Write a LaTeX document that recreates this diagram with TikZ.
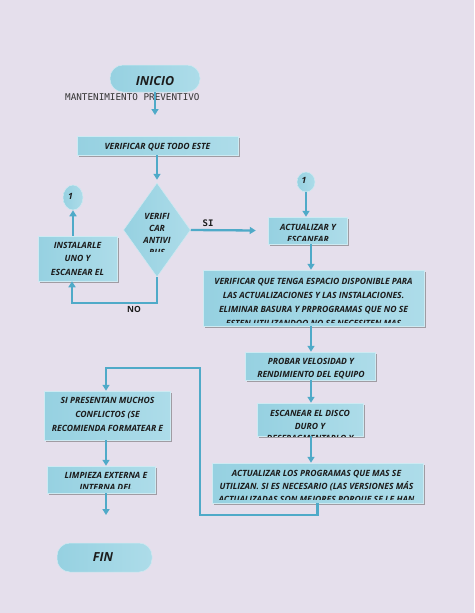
\documentclass[tikz,border=0pt]{standalone}
\usepackage{fontspec}
\setmainfont{Open Sans}
\newfontfamily\monof{DejaVu Sans Mono}
\usetikzlibrary{shapes.geometric,shadows,arrows.meta,calc}
\definecolor{bg}{HTML}{E5DFEC}
\definecolor{ln}{HTML}{4FAAC8}
\definecolor{shA}{HTML}{96D1E1}
\definecolor{shB}{HTML}{DDF1F6}
\definecolor{shC}{HTML}{ADDCE9}
\definecolor{txc}{HTML}{1C1C1C}
\newcommand\cliplines[6]{%
  \begin{scope}
    \clip (0,0) rectangle (474,#5);
    \foreach \tl [count=\i] in {#6} {\node[txt] (#1\i) at (#2,{#3+(\i-1)*#4}) {\tl};}
  \end{scope}}
\begin{document}
\begin{tikzpicture}[x=1pt,y=-1pt,
  fillbox/.style={draw=white!40!shC, line width=0.5pt, left color=shA, middle color=shB, right color=shC, inner sep=0pt},
  box/.style={fillbox, drop shadow={shadow xshift=1.8pt,shadow yshift=-1.8pt,fill=black!70,opacity=0.45}},
  term/.style={fillbox, rounded corners=13pt},
  dia/.style={fillbox, diamond},
  circ/.style={fillbox, ellipse},
  txt/.style={font=\fontsize{8.6}{10}\selectfont\bfseries\itshape, text=txc, inner sep=0pt, anchor=base},
  ttl/.style={font=\fontsize{12.5}{14}\selectfont\bfseries\itshape, text=txc, inner sep=0pt, anchor=base},
  lbl/.style={text=txc, inner sep=0pt, anchor=base},
  arr/.style={draw=ln, line width=2.3pt, -{Triangle[width=7pt,length=6pt]}},
  con/.style={draw=ln, line width=2.3pt}]
\fill[bg] (0,0) rectangle (474,613);
\useasboundingbox (0,0) rectangle (474,613);

% INICIO
\node[term, minimum width=90pt, minimum height=27pt] (inicio) at (155,78.5) {};
\node[ttl] (inicioT) at (155,85) {INICIO};
\node[lbl, anchor=base west, font=\monof\fontsize{9.3}{11}\selectfont, text=black!80] (mant) at (65,100) {MANTENIMIENTO PREVENTIVO};
\coordinate (a1end) at (155,115);

% VERIFICAR QUE TODO ESTE
\node[box, minimum width=161pt, minimum height=19pt] (b0) at (157.5,145.5) {};
\cliplines{b0t}{157.5}{149.5}{13}{154}{VERIFICAR QUE TODO ESTE}

% diamond
\node[dia, minimum width=67pt, minimum height=94pt] (dia) at (157,230) {};
\cliplines{diat}{157}{219}{12.2}{251}{VERIFI,CAR,ANTIVI,RUS}

% INSTALARLE
\node[box, minimum width=79pt, minimum height=45pt] (inst) at (77.5,258.5) {};
\cliplines{instt}{77.5}{248}{13.5}{279}{INSTALARLE,UNO Y,ESCANEAR EL,EQUIPO}

% circle 1 left
\node[circ, minimum width=20pt, minimum height=25pt] (c1) at (73,197.5) {};
\node[txt] (c1t) at (70.5,199.5) {1};

% circle 1 right
\node[circ, minimum width=18pt, minimum height=20pt] (c2) at (306,182) {};
\node[txt] (c2t) at (304,183.5) {1};

% ACTUALIZAR Y ESCANEAR
\node[box, minimum width=79pt, minimum height=27pt] (act) at (307.5,230.5) {};
\cliplines{actt}{308}{230}{12.5}{240}{ACTUALIZAR Y,ESCANEAR}

% big box
\node[box, minimum width=221pt, minimum height=56pt] (big) at (313.5,298) {};
\cliplines{bigt}{313.5}{284}{14}{322}{VERIFICAR QUE TENGA ESPACIO DISPONIBLE PARA,LAS ACTUALIZACIONES Y LAS INSTALACIONES.,ELIMINAR BASURA Y PRPROGRAMAS QUE NO SE,ESTEN UTILIZANDOO NO SE NECESITEN MAS}

% PROBAR
\node[box, minimum width=130pt, minimum height=28pt] (prob) at (310,366) {};
\cliplines{probt}{311}{364}{13.5}{378.3}{PROBAR VELOSIDAD Y,RENDIMIENTO DEL EQUIPO}

% ESCANEAR
\node[box, minimum width=106pt, minimum height=33pt] (esc) at (310,419.5) {};
\cliplines{esct}{310}{416.5}{12.5}{436.3}{ESCANEAR EL DISCO,DURO Y,DESFRAGMENTARLO Y}

% ACTUALIZAR LOS PROGRAMAS
\node[box, minimum width=211pt, minimum height=40pt] (prog) at (317.5,483) {};
\cliplines{progt}{316.5}{476}{13}{499}{ACTUALIZAR LOS PROGRAMAS QUE MAS SE,UTILIZAN. SI ES NECESARIO (LAS VERSIONES MÁS,ACTUALIZADAS SON MEJORES PORQUE SE LE HAN}

% SI PRESENTAN
\node[box, minimum width=126pt, minimum height=49pt] (sip) at (107,415.5) {};
\cliplines{sipt}{107.5}{403}{14}{434}{SI PRESENTAN MUCHOS,CONFLICTOS (SE,RECOMIENDA FORMATEAR E}

% LIMPIEZA
\node[box, minimum width=108pt, minimum height=27pt] (limp) at (101,479.5) {};
\cliplines{limpt}{106}{478}{12.5}{488.5}{LIMPIEZA EXTERNA E,INTERNA DEL}

% FIN
\node[term, minimum width=95pt, minimum height=29pt] (fin) at (104.5,557.5) {};
\node[ttl] (finT) at (103,561) {FIN};

% coordinates for connectors
\coordinate (colR) at (311,0);
\coordinate (colB) at (317.5,0);
\coordinate (r1) at (200,515);
\coordinate (r2) at (106,368);
\coordinate (noY) at (72,303);
\coordinate (limpEnd) at (106,515);

% connectors
\draw[arr] (inicio.south) -- (a1end);
\draw[arr] (b0.south -| dia.north) -- ([yshift=3pt]dia.north);
\draw[arr] (dia.east) -- ([xshift=-12pt]act.west);
\node[lbl, font=\monof\bfseries\fontsize{9}{11}\selectfont] (si) at (208,226) {SI};
\draw[arr] (dia.south) |- (noY) -- (noY |- inst.south);
\node[lbl, font=\bfseries\fontsize{8.5}{10}\selectfont] (no) at (134,312) {NO};
\draw[arr] (c1.south |- inst.north) -- (c1.south);
\draw[arr] (c2.south) -- (c2.south |- act.north);
\draw[arr] (act.south -| colR) -- (big.north -| colR);
\draw[arr] (big.south -| colR) -- (prob.north -| colR);
\draw[arr] (prob.south -| colR) -- (esc.north -| colR);
\draw[arr] (esc.south -| colR) -- (prog.north -| colR);
\draw[arr] (prog.south -| colB) |- (r1) |- (r2) -- (r2 |- sip.north);
\draw[arr] (sip.south -| r2) -- (limp.north -| r2);
\draw[arr] (limp.south -| limpEnd) -- (limpEnd);
\end{tikzpicture}
\end{document}
